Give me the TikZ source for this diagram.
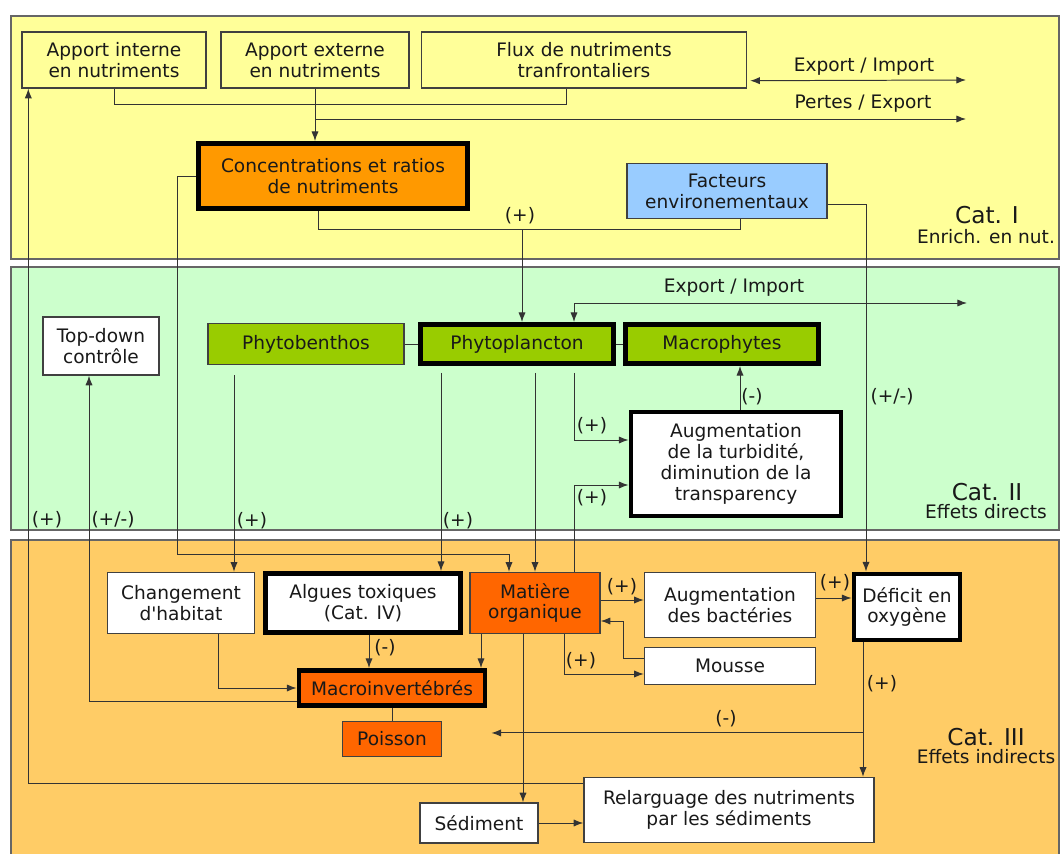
\documentclass[tikz,border=0pt]{standalone}
\usepackage{fontspec}
\setmainfont{DejaVu Sans}
\usetikzlibrary{calc,arrows.meta}
\newcommand\pxu{0.025cm}
\definecolor{cYel}{HTML}{FFFF99}
\definecolor{cMint}{HTML}{CCFFCC}
\definecolor{cSand}{HTML}{FFCC66}
\definecolor{cOra}{HTML}{FF9900}
\definecolor{cBlu}{HTML}{99CCFF}
\definecolor{cGre}{HTML}{99CC00}
\definecolor{cRed}{HTML}{FF6600}
\tikzset{
	every node/.style={font=\fontsize{13.2}{14.9}\selectfont, text=black!90},
	box/.style 2 args={draw=black!75, line width=1pt, align=center, inner sep=1pt, minimum width=#1*\pxu, minimum height=#2*\pxu},
	bold/.style={line width=3.5pt, draw=black},
	con/.style={draw=black!80, line width=0.7pt},
	arr/.style={con, -{Latex[length=2.4mm,width=1.8mm]}},
	darr/.style={con, {Latex[length=2.4mm,width=1.8mm]}-{Latex[length=2.4mm,width=1.8mm]}},
	sgn/.style={inner sep=0pt},
	cat/.style={inner sep=0pt, font=\fontsize{16.5}{18}\selectfont},
	band/.style={draw=black!60, line width=1.2pt},
}

\begin{document}
\begin{tikzpicture}[x=0.025cm, y=-0.025cm]
			%%%%% START %%%%%
			\clip (0, 0) rectangle (1061, 854);
			
			\draw[band, fill=cYel] (11, 16) rectangle (1059, 259);
			\draw[band, fill=cMint] (11, 267) rectangle (1059, 530);
			\draw[band, fill=cSand] (11, 540) rectangle (1059, 880);
			
			%%%%% CAT I %%%%%
			\node[box={184}{56}, fill=cYel] (ai) at (114, 60) {Apport interne\\en nutriments};
			\node[box={188}{56}, fill=cYel] (ae) at (315, 60) {Apport externe\\en nutriments};
			\node[box={325}{56}, fill=cYel] (fl) at (584, 60) {Flux de nutriments\\tranfrontaliers};
			\node[box={269}{65}, bold, fill=cOra] (cr) at (333, 176) {Concentrations et ratios\\de nutriments};
			\node[box={200}{55}, fill=cBlu] (fe) at (727, 191) {Facteurs\\environementaux};
			
			\coordinate (ei) at (966, 80);
			\coordinate (pe) at (966, 119);
			\node[sgn] (l-ei) at (864, 67) {Export / Import};
			\node[sgn] (l-pe) at (863, 104) {Pertes / Export};
			\node[cat] (c1) at (987, 215) {Cat. I};
			\node[sgn] (c1b) at (986, 237) {Enrich. en nut.};
			
			%%%%% CAT II %%%%%
			\node[box={116}{58}, fill=white] (td) at (101, 346) {Top-down\\contrôle};
			\node[box={196}{41}, fill=cGre] (pb) at (306, 344) {Phytobenthos};
			\node[box={193}{39}, bold, fill=cGre] (pp) at (517, 344) {Phytoplancton};
			\node[box={193}{39}, bold, fill=cGre] (mp) at (722, 344) {Macrophytes};
			\node[box={210}{104}, bold, fill=white] (tu) at (736, 464) {Augmentation\\de la turbidité,\\diminution de la\\transparency};
			
			\coordinate (ei2) at (967, 303);
			\node[sgn] (l-ei2) at (734, 288) {Export / Import};
			\node[cat] (c2) at (987, 492) {Cat. II};
			\node[sgn] (c2b) at (986, 512) {Effets directs};
			
			%%%%% CAT III %%%%%
			\node[box={147}{61}, fill=white] (ch) at (181, 603) {Changement\\d\textquotesingle habitat};
			\node[box={195}{59}, bold, fill=white] (al) at (363, 603) {Algues toxiques\\(Cat. IV)};
			\node[box={130}{61}, fill=cRed] (mo) at (535, 603) {Matière\\organique};
			\node[box={171}{65}, fill=white] (ba) at (730, 605) {Augmentation\\des bactéries};
			\node[box={171}{37}, fill=white] (mu) at (730, 666) {Mousse};
			\node[box={106}{66}, bold, fill=white] (de) at (907, 607) {Déficit en\\oxygène};
			\node[box={186}{35}, bold, fill=cRed] (mi) at (392, 688) {Macroinvertébrés};
			\node[box={99}{35}, fill=cRed] (po) at (392, 739) {Poisson};
			\node[box={118}{40}, fill=white] (se) at (479, 823) {Sédiment};
			\node[box={290}{65}, fill=white] (re) at (729, 810) {Relarguage des nutriments\\par les sédiments};
			
			\coordinate (mt) at ($(mi.south east)+(4, 25)$);
			\node[cat] (c3) at (986, 737) {Cat. III};
			\node[sgn] (c3b) at (986, 757) {Effets indirects};
			
			%%%%% LINKS %%%%%
			\draw[con] (ai.south) -- ++(0, 16) -| ($(fl.south)+(-18, 0)$);
			\draw[arr] (ae.south) -- (ae.south |- cr.north);
			\draw[arr] (ae.south |- pe) -- (pe);
			\draw[darr] ($(fl.south east)+(3, -8)$) -- (ei);
			
			\coordinate (j1) at ($(cr.south)+(-15, 19)$);
			\coordinate (t0) at ($(pp.north)+(5, 0)$);
			\draw[con] (cr.south -| j1) -- (j1) -| ($(fe.south)+(13, 0)$);
			\draw[arr] (t0 |- j1) -- (t0);
			\node[sgn] (s-cr) at (520, 216) {(+)};
			\draw[arr] (cr.west) -- ++(-19, 0) |- ($(mo.north)+(-26, -17)$) -- ($(mo.north)+(-26, 0)$);
			\draw[arr] ($(fe.east)+(0, 13)$) -| ($(de.north)+(-41, 0)$);
			\node[sgn] (s-fe) at (892, 397) {(+/-)};
			
			\draw[arr] ($(re.north west)+(0, 7)$) -| ($(ai.south west)+(7, 0)$);
			\node[sgn] (s-re) at (47, 520) {(+)};
			\draw[arr] ($(mi.west)+(0, 13)$) -| ($(td.south)+(-12, 0)$);
			\node[sgn] (s-td) at (113, 520) {(+/-)};
			
			\draw[con] (pb.east) -- (pp.west);
			\draw[con] (pp.east) -- (mp.west);
			\draw[darr] (ei2) -| ($(pp.north)+(57, 0)$);
			
			\draw[arr] ($(pb.south)+(-72, 10)$) coordinate (t1) -- (t1 |- ch.north);
			\node[sgn] (s-pb) at (252, 521) {(+)};
			\draw[arr] ($(pp.south)+(-76, 7)$) coordinate (t2) -- (t2 |- al.north);
			\node[sgn] (s-pp) at (458, 521) {(+)};
			\draw[arr] ($(pp.south)+(18, 7)$) -- (mo.north);
			\draw[arr] ($(pp.south)+(57, 7)$) |- ($(tu.west)+(0, -24)$);
			\node[sgn] (s-tu1) at (592, 426) {(+)};
			\draw[arr] ($(mo.north)+(39, 0)$) |- ($(tu.west)+(0, 21)$);
			\node[sgn] (s-tu2) at (592, 498) {(+)};
			\draw[arr] ($(tu.north)+(4, 0)$) coordinate (t3) -- (t3 |- mp.south);
			\node[sgn] (s-mp) at (752, 397) {(-)};
			
			\draw[arr] ($(ch.south)+(37, 0)$) |- (mi.west);
			\draw[arr] ($(al.south)+(6, 0)$) coordinate (t4) -- (t4 |- mi.north);
			\node[sgn] (s-al) at (385, 648) {(-)};
			\draw[arr] ($(mo.south)+(-54, 0)$) coordinate (t5) -- (t5 |- mi.north);
			\draw[arr] ($(mo.south)+(-12, 0)$) coordinate (t6) -- (t6 |- se.north);
			\draw[arr] (se.east) -- (se.east -| re.west);
			\draw[con] (mi.south) -- (po.north);
			
			\draw[arr] ($(mo.east)+(0, -3)$) coordinate (t7) -- (t7 -| ba.west);
			\node[sgn] (s-ba) at (622, 587) {(+)};
			\draw[arr] ($(mu.west)+(0, -8)$) -- ++(-20, 0) |- ($(mo.east)+(0, 18)$);
			\draw[arr] ($(mo.south)+(29, 0)$) |- ($(mu.west)+(0, 8)$);
			\node[sgn] (s-mu) at (581, 661) {(+)};
			\draw[arr] ($(ba.east)+(0, -7)$) coordinate (t8) -- (t8 -| de.west);
			\node[sgn] (s-de) at (835, 583) {(+)};
			\draw[arr] ($(de.south)+(-44, 0)$) coordinate (t9) -- (t9 |- re.north);
			\node[sgn] (s-re2) at (882, 684) {(+)};
			\draw[arr] (t9 |- mt) -- (mt);
			\node[sgn] (s-mt) at (726, 719) {(-)};
			%%%%% END %%%%%
\end{tikzpicture}
\end{document}
